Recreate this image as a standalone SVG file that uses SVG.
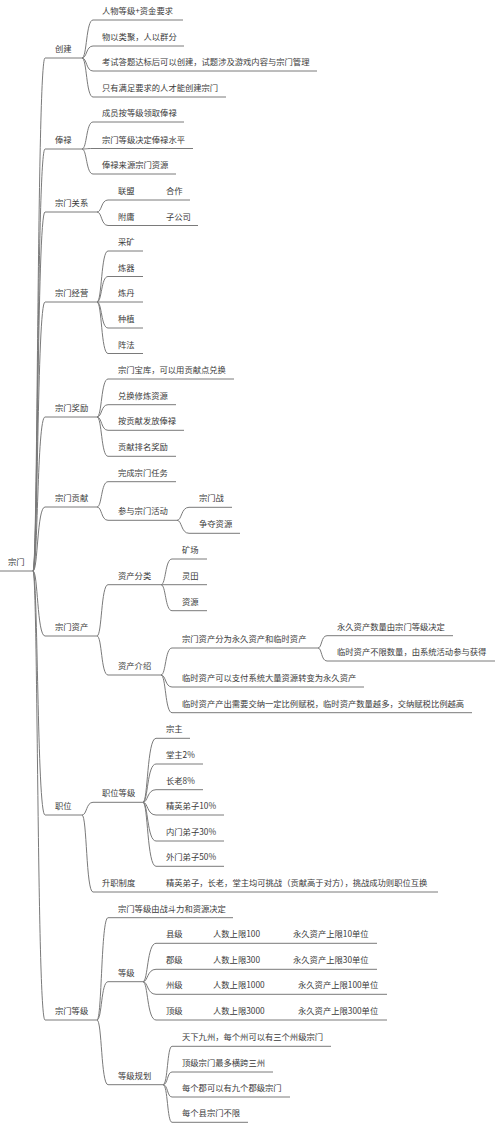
<svg xmlns="http://www.w3.org/2000/svg" width="495" height="1124" viewBox="0 0 495 1124">
<style>
.t{font-family:"Noto Sans CJK SC","Noto Sans",sans-serif;font-size:8.3px;fill:#3a3a3a}
.u{stroke:#7a7a7a;stroke-width:1;fill:none}
.c{stroke:#7a7a7a;stroke-width:1;fill:none}
</style>
<rect width="495" height="1124" fill="#ffffff"/>
<g id="connectors" class="c">
<path d="M33 571C38 571 37 58 45 58"/>
<path d="M33 571C38 571 37 149 45 149"/>
<path d="M33 571C38 571 37 212 45 212"/>
<path d="M33 571C38 571 37 302 45 302"/>
<path d="M33 571C38 571 37 417 45 417"/>
<path d="M33 571C38 571 37 507 45 507"/>
<path d="M33 571C38 571 37 636 45 636"/>
<path d="M33 571C38 571 37 815 45 815"/>
<path d="M33 571C38 571 37 1020 45 1020"/>
<path d="M82 58C87 58 86 20 93 20"/>
<path d="M82 58C87 58 86 46 93 46"/>
<path d="M82 58C87 58 86 71 93 71"/>
<path d="M82 58C87 58 86 97 93 97"/>
<path d="M82 149C87 149 86 122 93 122"/>
<path d="M82 149C87 149 86 148.5 93 148.5"/>
<path d="M82 149C87 149 86 174 93 174"/>
<path d="M97 212C102 212 101 200 108 200"/>
<path d="M97 212C102 212 101 225.5 108 225.5"/>
<path d="M143 200L156 200"/>
<path d="M143 225.5L156 225.5"/>
<path d="M97 302C102 302 101 251 108 251"/>
<path d="M97 302C102 302 101 276.5 108 276.5"/>
<path d="M97 302L108 302"/>
<path d="M97 302C102 302 101 328 108 328"/>
<path d="M97 302C102 302 101 353.5 108 353.5"/>
<path d="M97 417C102 417 101 379 108 379"/>
<path d="M97 417C102 417 101 404.7 108 404.7"/>
<path d="M97 417C102 417 101 430.3 108 430.3"/>
<path d="M97 417C102 417 101 456.3 108 456.3"/>
<path d="M97 507C102 507 101 481.7 108 481.7"/>
<path d="M97 507C102 507 101 520.3 108 520.3"/>
<path d="M177 520.3C182 520.3 181 507.3 189 507.3"/>
<path d="M177 520.3C182 520.3 181 533.3 189 533.3"/>
<path d="M97 636C102 636 101 584.7 108 584.7"/>
<path d="M97 636C102 636 101 675 108 675"/>
<path d="M161 584.7C166 584.7 165 559 172 559"/>
<path d="M161 584.7L172 584.7"/>
<path d="M161 584.7C166 584.7 165 610.7 172 610.7"/>
<path d="M161 675C166 675 165 648 172 648"/>
<path d="M161 675C166 675 165 687 172 687"/>
<path d="M161 675C166 675 165 712.7 172 712.7"/>
<path d="M318 648C322 648 321 635.7 327 635.7"/>
<path d="M318 648C322 648 321 661 327 661"/>
<path d="M82 815C87 815 86 802.3 93 802.3"/>
<path d="M82 815C87 815 86 892 93 892"/>
<path d="M143 802.3C148 802.3 147 738.3 156 738.3"/>
<path d="M143 802.3C148 802.3 147 764 156 764"/>
<path d="M143 802.3C148 802.3 147 789.7 156 789.7"/>
<path d="M143 802.3C148 802.3 147 815 156 815"/>
<path d="M143 802.3C148 802.3 147 841 156 841"/>
<path d="M143 802.3C148 802.3 147 866.3 156 866.3"/>
<path d="M143 892L156 892"/>
<path d="M97 1020C102 1020 101 917.7 108 917.7"/>
<path d="M97 1020C102 1020 101 981.7 108 981.7"/>
<path d="M97 1020C102 1020 101 1084.7 108 1084.7"/>
<path d="M143 981.7C148 981.7 147 943.3 156 943.3"/>
<path d="M143 981.7C148 981.7 147 969.3 156 969.3"/>
<path d="M143 981.7C148 981.7 147 994.3 156 994.3"/>
<path d="M143 981.7C148 981.7 147 1020 156 1020"/>
<path d="M190 943.3L203 943.3M270 943.3L283 943.3"/>
<path d="M190 969.3L203 969.3M270 969.3L283 969.3"/>
<path d="M190 994.3L203 994.3M273 994.3L288 994.3"/>
<path d="M190 1020L203 1020M273 1020L288 1020"/>
<path d="M163 1084.7C168 1084.7 167 1046.3 172 1046.3"/>
<path d="M163 1084.7C168 1084.7 167 1072 172 1072"/>
<path d="M163 1084.7C168 1084.7 167 1097 172 1097"/>
<path d="M163 1084.7C168 1084.7 167 1122.3 172 1122.3"/>
</g>
<g id="root"><line class="u" x1="0" y1="571" x2="33" y2="571"/><text class="t" x="8" y="565">宗门</text></g>
<g id="n-chuangjian"><line class="u" x1="45" y1="58" x2="82" y2="58"/><text class="t" x="55" y="52">创建</text></g>
<g id="n-cj1"><line class="u" x1="93" y1="20" x2="183" y2="20"/><text class="t" x="102" y="14">人物等级+资金要求</text></g>
<g id="n-cj2"><line class="u" x1="93" y1="46" x2="184" y2="46"/><text class="t" x="102" y="40">物以类聚，人以群分</text></g>
<g id="n-cj3"><line class="u" x1="93" y1="71" x2="317" y2="71"/><text class="t" x="102" y="65">考试答题达标后可以创建，试题涉及游戏内容与宗门管理</text></g>
<g id="n-cj4"><line class="u" x1="93" y1="97" x2="226" y2="97"/><text class="t" x="102" y="91">只有满足要求的人才能创建宗门</text></g>
<g id="n-fenglu"><line class="u" x1="45" y1="149" x2="82" y2="149"/><text class="t" x="55" y="143">俸禄</text></g>
<g id="n-fl1"><line class="u" x1="93" y1="122" x2="184" y2="122"/><text class="t" x="102" y="116">成员按等级领取俸禄</text></g>
<g id="n-fl2"><line class="u" x1="93" y1="148.5" x2="193" y2="148.5"/><text class="t" x="102" y="142.5">宗门等级决定俸禄水平</text></g>
<g id="n-fl3"><line class="u" x1="93" y1="174" x2="176" y2="174"/><text class="t" x="102" y="168">俸禄来源宗门资源</text></g>
<g id="n-guanxi"><line class="u" x1="45" y1="212" x2="97" y2="212"/><text class="t" x="55" y="206">宗门关系</text></g>
<g id="n-lianmeng"><line class="u" x1="108" y1="200" x2="143" y2="200"/><text class="t" x="118" y="194">联盟</text></g>
<g id="n-hezuo"><line class="u" x1="156" y1="200" x2="190" y2="200"/><text class="t" x="166" y="194">合作</text></g>
<g id="n-fuyong"><line class="u" x1="108" y1="225.5" x2="143" y2="225.5"/><text class="t" x="118" y="219.5">附庸</text></g>
<g id="n-zigongsi"><line class="u" x1="156" y1="225.5" x2="198" y2="225.5"/><text class="t" x="166" y="219.5">子公司</text></g>
<g id="n-jingying"><line class="u" x1="45" y1="302" x2="97" y2="302"/><text class="t" x="55" y="296">宗门经营</text></g>
<g id="n-jy1"><line class="u" x1="108" y1="251" x2="143" y2="251"/><text class="t" x="118" y="245">采矿</text></g>
<g id="n-jy2"><line class="u" x1="108" y1="276.5" x2="143" y2="276.5"/><text class="t" x="118" y="270.5">炼器</text></g>
<g id="n-jy3"><line class="u" x1="108" y1="302" x2="143" y2="302"/><text class="t" x="118" y="296">炼丹</text></g>
<g id="n-jy4"><line class="u" x1="108" y1="328" x2="143" y2="328"/><text class="t" x="118" y="322">种植</text></g>
<g id="n-jy5"><line class="u" x1="108" y1="353.5" x2="143" y2="353.5"/><text class="t" x="118" y="347.5">阵法</text></g>
<g id="n-jiangli"><line class="u" x1="45" y1="417" x2="97" y2="417"/><text class="t" x="55" y="411">宗门奖励</text></g>
<g id="n-jl1"><line class="u" x1="108" y1="379" x2="234" y2="379"/><text class="t" x="118" y="373">宗门宝库，可以用贡献点兑换</text></g>
<g id="n-jl2"><line class="u" x1="108" y1="404.7" x2="176" y2="404.7"/><text class="t" x="118" y="398.7">兑换修炼资源</text></g>
<g id="n-jl3"><line class="u" x1="108" y1="430.3" x2="184" y2="430.3"/><text class="t" x="118" y="424.3">按贡献发放俸禄</text></g>
<g id="n-jl4"><line class="u" x1="108" y1="456.3" x2="176" y2="456.3"/><text class="t" x="118" y="450.3">贡献排名奖励</text></g>
<g id="n-gongxian"><line class="u" x1="45" y1="507" x2="97" y2="507"/><text class="t" x="55" y="501">宗门贡献</text></g>
<g id="n-gx1"><line class="u" x1="108" y1="481.7" x2="176" y2="481.7"/><text class="t" x="118" y="475.7">完成宗门任务</text></g>
<g id="n-gx2"><line class="u" x1="108" y1="520.3" x2="177" y2="520.3"/><text class="t" x="118" y="514.3">参与宗门活动</text></g>
<g id="n-gx21"><line class="u" x1="189" y1="507.3" x2="232" y2="507.3"/><text class="t" x="199" y="501.3">宗门战</text></g>
<g id="n-gx22"><line class="u" x1="189" y1="533.3" x2="240" y2="533.3"/><text class="t" x="199" y="527.3">争夺资源</text></g>
<g id="n-zichan"><line class="u" x1="45" y1="636" x2="97" y2="636"/><text class="t" x="55" y="630">宗门资产</text></g>
<g id="n-zcfl"><line class="u" x1="108" y1="584.7" x2="161" y2="584.7"/><text class="t" x="118" y="578.7">资产分类</text></g>
<g id="n-zcfl1"><line class="u" x1="172" y1="559" x2="207" y2="559"/><text class="t" x="182" y="553">矿场</text></g>
<g id="n-zcfl2"><line class="u" x1="172" y1="584.7" x2="207" y2="584.7"/><text class="t" x="182" y="578.7">灵田</text></g>
<g id="n-zcfl3"><line class="u" x1="172" y1="610.7" x2="207" y2="610.7"/><text class="t" x="182" y="604.7">资源</text></g>
<g id="n-zcjs"><line class="u" x1="108" y1="675" x2="162" y2="675"/><text class="t" x="118" y="669">资产介绍</text></g>
<g id="n-zcjs1"><line class="u" x1="172" y1="648" x2="318" y2="648"/><text class="t" x="182" y="642">宗门资产分为永久资产和临时资产</text></g>
<g id="n-zcjs11"><line class="u" x1="327" y1="635.7" x2="453" y2="635.7"/><text class="t" x="337" y="629.7">永久资产数量由宗门等级决定</text></g>
<g id="n-zcjs12"><line class="u" x1="327" y1="661" x2="495" y2="661"/><text class="t" x="337" y="655">临时资产不限数量，由系统活动参与获得</text></g>
<g id="n-zcjs2"><line class="u" x1="172" y1="687" x2="364" y2="687"/><text class="t" x="182" y="681">临时资产可以支付系统大量资源转变为永久资产</text></g>
<g id="n-zcjs3"><line class="u" x1="172" y1="712.7" x2="472" y2="712.7"/><text class="t" x="182" y="706.7">临时资产产出需要交纳一定比例赋税，临时资产数量越多，交纳赋税比例越高</text></g>
<g id="n-zhiwei"><line class="u" x1="45" y1="815" x2="82" y2="815"/><text class="t" x="55" y="809">职位</text></g>
<g id="n-zwdj"><line class="u" x1="93" y1="802.3" x2="143" y2="802.3"/><text class="t" x="102" y="796.3">职位等级</text></g>
<g id="n-zw1"><line class="u" x1="156" y1="738.3" x2="190" y2="738.3"/><text class="t" x="166" y="732.3">宗主</text></g>
<g id="n-zw2"><line class="u" x1="156" y1="764" x2="203" y2="764"/><text class="t" x="166" y="758">堂主2%</text></g>
<g id="n-zw3"><line class="u" x1="156" y1="789.7" x2="203" y2="789.7"/><text class="t" x="166" y="783.7">长老8%</text></g>
<g id="n-zw4"><line class="u" x1="156" y1="815" x2="224" y2="815"/><text class="t" x="166" y="809">精英弟子10%</text></g>
<g id="n-zw5"><line class="u" x1="156" y1="841" x2="224" y2="841"/><text class="t" x="166" y="835">内门弟子30%</text></g>
<g id="n-zw6"><line class="u" x1="156" y1="866.3" x2="224" y2="866.3"/><text class="t" x="166" y="860.3">外门弟子50%</text></g>
<g id="n-szzd"><line class="u" x1="93" y1="892" x2="143" y2="892"/><text class="t" x="102" y="886">升职制度</text></g>
<g id="n-szzd1"><line class="u" x1="156" y1="892" x2="438" y2="892"/><text class="t" x="166" y="886">精英弟子，长老，堂主均可挑战（贡献高于对方），挑战成功则职位互换</text></g>
<g id="n-dengji"><line class="u" x1="45" y1="1020" x2="97" y2="1020"/><text class="t" x="55" y="1014">宗门等级</text></g>
<g id="n-dj1"><line class="u" x1="108" y1="917.7" x2="233" y2="917.7"/><text class="t" x="118" y="911.7">宗门等级由战斗力和资源决定</text></g>
<g id="n-dj2"><line class="u" x1="108" y1="981.7" x2="143" y2="981.7"/><text class="t" x="118" y="975.7">等级</text></g>
<g id="n-xian"><line class="u" x1="156" y1="943.3" x2="190" y2="943.3"/><text class="t" x="166" y="937.3">县级</text></g>
<g id="n-xian-a"><line class="u" x1="203" y1="943.3" x2="270" y2="943.3"/><text class="t" x="213" y="937.3">人数上限100</text></g>
<g id="n-xian-b"><line class="u" x1="283" y1="943.3" x2="377" y2="943.3"/><text class="t" x="293" y="937.3">永久资产上限10单位</text></g>
<g id="n-jun"><line class="u" x1="156" y1="969.3" x2="190" y2="969.3"/><text class="t" x="166" y="963.3">郡级</text></g>
<g id="n-jun-a"><line class="u" x1="203" y1="969.3" x2="270" y2="969.3"/><text class="t" x="213" y="963.3">人数上限300</text></g>
<g id="n-jun-b"><line class="u" x1="283" y1="969.3" x2="377" y2="969.3"/><text class="t" x="293" y="963.3">永久资产上限30单位</text></g>
<g id="n-zhou"><line class="u" x1="156" y1="994.3" x2="190" y2="994.3"/><text class="t" x="166" y="988.3">州级</text></g>
<g id="n-zhou-a"><line class="u" x1="203" y1="994.3" x2="273" y2="994.3"/><text class="t" x="213" y="988.3">人数上限1000</text></g>
<g id="n-zhou-b"><line class="u" x1="288" y1="994.3" x2="387" y2="994.3"/><text class="t" x="298" y="988.3">永久资产上限100单位</text></g>
<g id="n-ding"><line class="u" x1="156" y1="1020" x2="190" y2="1020"/><text class="t" x="166" y="1014">顶级</text></g>
<g id="n-ding-a"><line class="u" x1="203" y1="1020" x2="273" y2="1020"/><text class="t" x="213" y="1014">人数上限3000</text></g>
<g id="n-ding-b"><line class="u" x1="288" y1="1020" x2="387" y2="1020"/><text class="t" x="298" y="1014">永久资产上限300单位</text></g>
<g id="n-djgh"><line class="u" x1="108" y1="1084.7" x2="163" y2="1084.7"/><text class="t" x="118" y="1078.7">等级规划</text></g>
<g id="n-gh1"><line class="u" x1="172" y1="1046.3" x2="331" y2="1046.3"/><text class="t" x="182" y="1040.3">天下九州，每个州可以有三个州级宗门</text></g>
<g id="n-gh2"><line class="u" x1="172" y1="1072" x2="273" y2="1072"/><text class="t" x="182" y="1066">顶级宗门最多横跨三州</text></g>
<g id="n-gh3"><line class="u" x1="172" y1="1097" x2="290" y2="1097"/><text class="t" x="182" y="1091">每个郡可以有九个郡级宗门</text></g>
<g id="n-gh4"><line class="u" x1="172" y1="1122.3" x2="248" y2="1122.3"/><text class="t" x="182" y="1116.3">每个县宗门不限</text></g>
</svg>
